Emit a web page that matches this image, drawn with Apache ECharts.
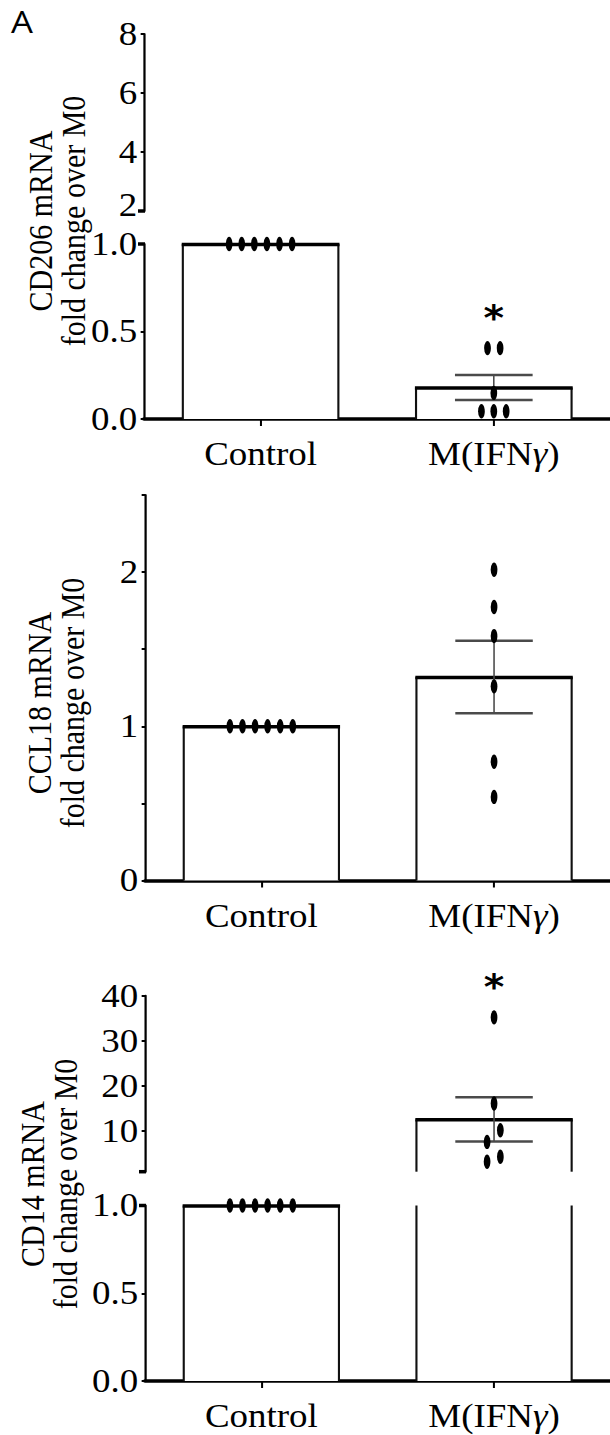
<!DOCTYPE html>
<html>
<head>
<meta charset="utf-8">
<script src="https://cdn.jsdelivr.net/npm/echarts@6/dist/echarts.min.js"></script>
<style>
html, body { margin: 0; padding: 0; background: #fff; overflow: hidden; }
/* the published figure is a little wider than tall, so the drawing is stretched sideways */
#chart { width: 544.64px; height: 1435px; transform: scaleX(1.12); transform-origin: 0 0; }
</style>
</head>
<body>
<div id="chart"></div>
<script>
var categories = ['Control', 'M(IFNγ)']

// CD206 (broken y axis: 0-1 and 2-8)
var cd206Mean = [1.0, 0.18]
var cd206Sem = [0, 0.072]
var cd206Control = [1, 1, 1, 1, 1, 1]
var cd206Ifng = [0.405, 0.405, 0.149, 0.044, 0.044, 0.044]
var cd206Sig = ['', '*']

// CCL18
var ccl18Mean = [1.0, 1.32]
var ccl18Sem = [0, 0.235]
var ccl18Control = [1, 1, 1, 1, 1, 1]
var ccl18Ifng = [2.015, 1.774, 1.585, 1.259, 0.770, 0.542]
var ccl18Sig = ['', '']

// CD14 (broken y axis: 0-1 and 1-40)
var cd14Mean = [1.0, 12.6]
var cd14Sem = [0, 4.9]
var cd14Control = [1, 1, 1, 1, 1, 1]
var cd14Ifng = [35.2, 16.1, 10.2, 7.6, 4.3, 3.2]
var cd14Sig = ['', '*']

// horizontal spread of the dots, as a fraction of the category width
var controlJitter = [-0.135, -0.081, -0.027, 0.027, 0.081, 0.135]
var cd206IfngJitter = [-0.027, 0.027, 0, -0.053, 0, 0.053]
var ccl18IfngJitter = [0, 0, 0, 0, 0, 0]
var cd14IfngJitter = [0, 0, 0.027, -0.03, 0.027, -0.03]

var cd14UpperTicks = [10, 20, 30, 40]

var K = 1.12 // horizontal stretch, see css
function sx(px) { return px / K }

var serif = 'Liberation Serif'
var myChart = echarts.init(document.getElementById('chart'), null, {renderer: 'svg'})

function inGrid(cs, y) {
	return y >= cs.y - 0.5 && y <= cs.y + cs.height + 0.5
}

function renderBar(params, api) {
	var cs = params.coordSys
	var cat = api.value(0), val = api.value(1)
	var base = api.coord([cat, 0]), top = api.coord([cat, val])
	var bw = api.size([1, 0])[0] * 0.667
	var x0 = base[0] - bw / 2, x1 = base[0] + bw / 2
	var yBottom = Math.min(base[1], cs.y + cs.height)
	var yTop = top[1]
	var clipped = yTop < cs.y
	if (clipped) yTop = cs.y
	if (yTop >= yBottom - 0.5) return
	var kids = [
		{type: 'rect', shape: {x: x0, y: yTop, width: bw, height: yBottom - yTop}, style: {fill: '#fff'}},
		{type: 'line', shape: {x1: x0, y1: yTop, x2: x0, y2: yBottom}, style: {stroke: '#111', lineWidth: 1.9}},
		{type: 'line', shape: {x1: x1, y1: yTop, x2: x1, y2: yBottom}, style: {stroke: '#111', lineWidth: 1.9}}
	]
	if (!clipped) {
		kids.push({type: 'line', shape: {x1: x0 - 1, y1: yTop + 0.5, x2: x1 + 1, y2: yTop + 0.5}, style: {stroke: '#000', lineWidth: 3.5}})
	}
	return {type: 'group', children: kids}
}

function renderErr(params, api) {
	var cs = params.coordSys
	var cat = api.value(0), m = api.value(1), s = api.value(2)
	if (!s) return
	var hi = api.coord([cat, m + s]), lo = api.coord([cat, m - s]), mid = api.coord([cat, m])
	if (!inGrid(cs, mid[1])) return
	var cw = api.size([1, 0])[0] * 0.333
	var c = '#4a4a4a'
	return {type: 'group', children: [
		{type: 'line', shape: {x1: hi[0], y1: hi[1], x2: lo[0], y2: lo[1]}, style: {stroke: c, lineWidth: 1.4}},
		{type: 'line', shape: {x1: hi[0] - cw / 2, y1: hi[1], x2: hi[0] + cw / 2, y2: hi[1]}, style: {stroke: c, lineWidth: 2.5}},
		{type: 'line', shape: {x1: lo[0] - cw / 2, y1: lo[1], x2: lo[0] + cw / 2, y2: lo[1]}, style: {stroke: c, lineWidth: 2.5}}
	]}
}

function renderDot(params, api) {
	var p = api.coord([api.value(0), api.value(1)])
	var dx = api.value(2) * api.size([1, 0])[0]
	return {type: 'circle', x: p[0] + dx, y: p[1], scaleY: 2.4,
		shape: {cx: 0, cy: 0, r: 3}, style: {fill: '#000'}}
}

function makeSigRender(sig, tops) {
	return function(params, api) {
		var i = params.dataIndex
		if (!sig[i]) return
		var p = api.coord([i, tops[i]])
		return {type: 'text', x: p[0], y: p[1] - 30,
			style: {text: sig[i], font: 'bold 35px "DejaVu Sans"', fill: '#000', align: 'center', verticalAlign: 'middle'}}
	}
}

function makeBreakRender(atTop) {
	return function(params, api) {
		var cs = params.coordSys
		var y = atTop ? cs.y : cs.y + cs.height
		return {type: 'line', shape: {x1: cs.x - sx(6), y1: y, x2: cs.x + sx(1), y2: y}, style: {stroke: '#000', lineWidth: 3.5}}
	}
}

function panelSeries(g, mean, sem, ctrl, ifng, ifngJit, sig, keep, withSig) {
	var dots = []
	ctrl.forEach(function(v, k) { if (keep(v)) dots.push([0, v, controlJitter[k]]) })
	ifng.forEach(function(v, k) { if (keep(v)) dots.push([1, v, ifngJit[k]]) })
	var list = [
		{type: 'custom', xAxisIndex: g, yAxisIndex: g, z: 2, renderItem: renderBar,
			data: mean.map(function(m, i) { return [i, m] })},
		{type: 'custom', xAxisIndex: g, yAxisIndex: g, z: 3, renderItem: renderErr,
			data: mean.map(function(m, i) { return [i, m, sem[i]] })},
		{type: 'custom', xAxisIndex: g, yAxisIndex: g, z: 4, renderItem: renderDot, data: dots}
	]
	if (withSig) {
		var tops = [Math.max.apply(null, ctrl), Math.max.apply(null, ifng)]
		list.push({type: 'custom', xAxisIndex: g, yAxisIndex: g, z: 5, renderItem: makeSigRender(sig, tops),
			data: mean.map(function(m, i) { return [i, tops[i]] })})
	}
	return list
}

function breakSeries(g, atTop, v) {
	return {type: 'custom', xAxisIndex: g, yAxisIndex: g, z: 6, renderItem: makeBreakRender(atTop), data: [[0, v]]}
}

var grids = [
	{left: sx(144), top: 34, width: sx(467), height: 177},
	{left: sx(144), top: 244, width: sx(467), height: 175},
	{left: sx(145), top: 495, width: sx(470), height: 385.5},
	{left: sx(145), top: 995.7, width: sx(470), height: 176},
	{left: sx(145), top: 1205.5, width: sx(470), height: 175.5}
]

function xAxisFor(g, show) {
	return {
		type: 'category', gridIndex: g, data: categories, show: show, boundaryGap: true,
		axisLine: {lineStyle: {color: '#000', width: 3.5}},
		axisTick: {show: true, alignWithLabel: true, interval: 0, length: 7, lineStyle: {color: '#000', width: 1.8}},
		axisLabel: {
			interval: 0, hideOverlap: false,
			margin: 19, color: '#000', fontFamily: serif, fontSize: 33,
			formatter: function(v) { return v.replace('γ', '{g|γ}') },
			rich: {g: {fontStyle: 'italic', fontFamily: serif, fontSize: 33, color: '#000'}}
		},
		splitLine: {show: false}
	}
}

function yAxisFor(g, min, max, interval, fmt, extra) {
	var ax = {
		type: 'value', gridIndex: g, min: min, max: max, interval: interval,
		axisLine: {show: true, lineStyle: {color: '#000', width: 2}},
		axisTick: {show: true, length: 3, lineStyle: {color: '#000', width: 2}},
		axisLabel: {
			margin: 6, color: '#000', fontFamily: serif, fontSize: 33, lineHeight: 28, formatter: fmt,
			// the lowest label of a top segment sits a little above its tick, clear of the segment below
			rich: {lo: {fontFamily: serif, fontSize: 33, color: '#000', lineHeight: 28, padding: [0, 0, 12, 0]}}
		},
		splitLine: {show: false}
	}
	if (extra) {
		ax.axisTick.customValues = extra
		ax.axisLabel.customValues = extra
	}
	return ax
}

function oneDecimal(v) { return v.toFixed(1) }
function wholeOnly(v) { return v % 1 === 0 ? String(v) : '' }
function upperLabel(min) {
	return function(v) { return v === min ? '{lo|' + v + '}' : String(v) }
}

var titleFont = '30px "' + serif + '"'
function yTitle(x, y, text) {
	return {type: 'text', x: sx(x), y: y, rotation: Math.PI / 2,
		style: {text: text, font: titleFont, fill: '#000', align: 'center', verticalAlign: 'middle', lineHeight: sx(33)}}
}

var below1 = function(v) { return v <= 1 }
var above1 = function(v) { return v > 1 }
var all = function() { return true }

var option = {
	animation: false,
	backgroundColor: '#fff',
	grid: grids,
	xAxis: [xAxisFor(0, false), xAxisFor(1, true), xAxisFor(2, true), xAxisFor(3, false), xAxisFor(4, true)],
	yAxis: [
		yAxisFor(0, 2, 8, 2, upperLabel(2)),
		yAxisFor(1, 0, 1, 0.5, oneDecimal),
		yAxisFor(2, 0, 2.5, 0.5, wholeOnly),
		yAxisFor(3, 1, 40, 10, function(v) { return String(v) }, cd14UpperTicks),
		yAxisFor(4, 0, 1, 0.5, oneDecimal)
	],
	graphic: [
		{type: 'text', x: sx(11), y: 6, style: {text: 'A', font: '31px "Open Sans"', fill: '#000'}},
		yTitle(57, 221, 'CD206 mRNA\nfold change over M0'),
		yTitle(56, 703, 'CCL18 mRNA\nfold change over M0'),
		yTitle(49, 1184, 'CD14 mRNA\nfold change over M0')
	],
	series: [].concat(
		panelSeries(0, cd206Mean, cd206Sem, cd206Control, cd206Ifng, cd206IfngJitter, cd206Sig, above1, false),
		panelSeries(1, cd206Mean, cd206Sem, cd206Control, cd206Ifng, cd206IfngJitter, cd206Sig, below1, true),
		[breakSeries(0, false, 2), breakSeries(1, true, 1)],
		panelSeries(2, ccl18Mean, ccl18Sem, ccl18Control, ccl18Ifng, ccl18IfngJitter, ccl18Sig, all, false),
		panelSeries(3, cd14Mean, cd14Sem, cd14Control, cd14Ifng, cd14IfngJitter, cd14Sig, above1, true),
		panelSeries(4, cd14Mean, cd14Sem, cd14Control, cd14Ifng, cd14IfngJitter, cd14Sig, below1, false),
		[breakSeries(3, false, 1), breakSeries(4, true, 1)]
	)
}

myChart.setOption(option)
</script>
</body>
</html>
